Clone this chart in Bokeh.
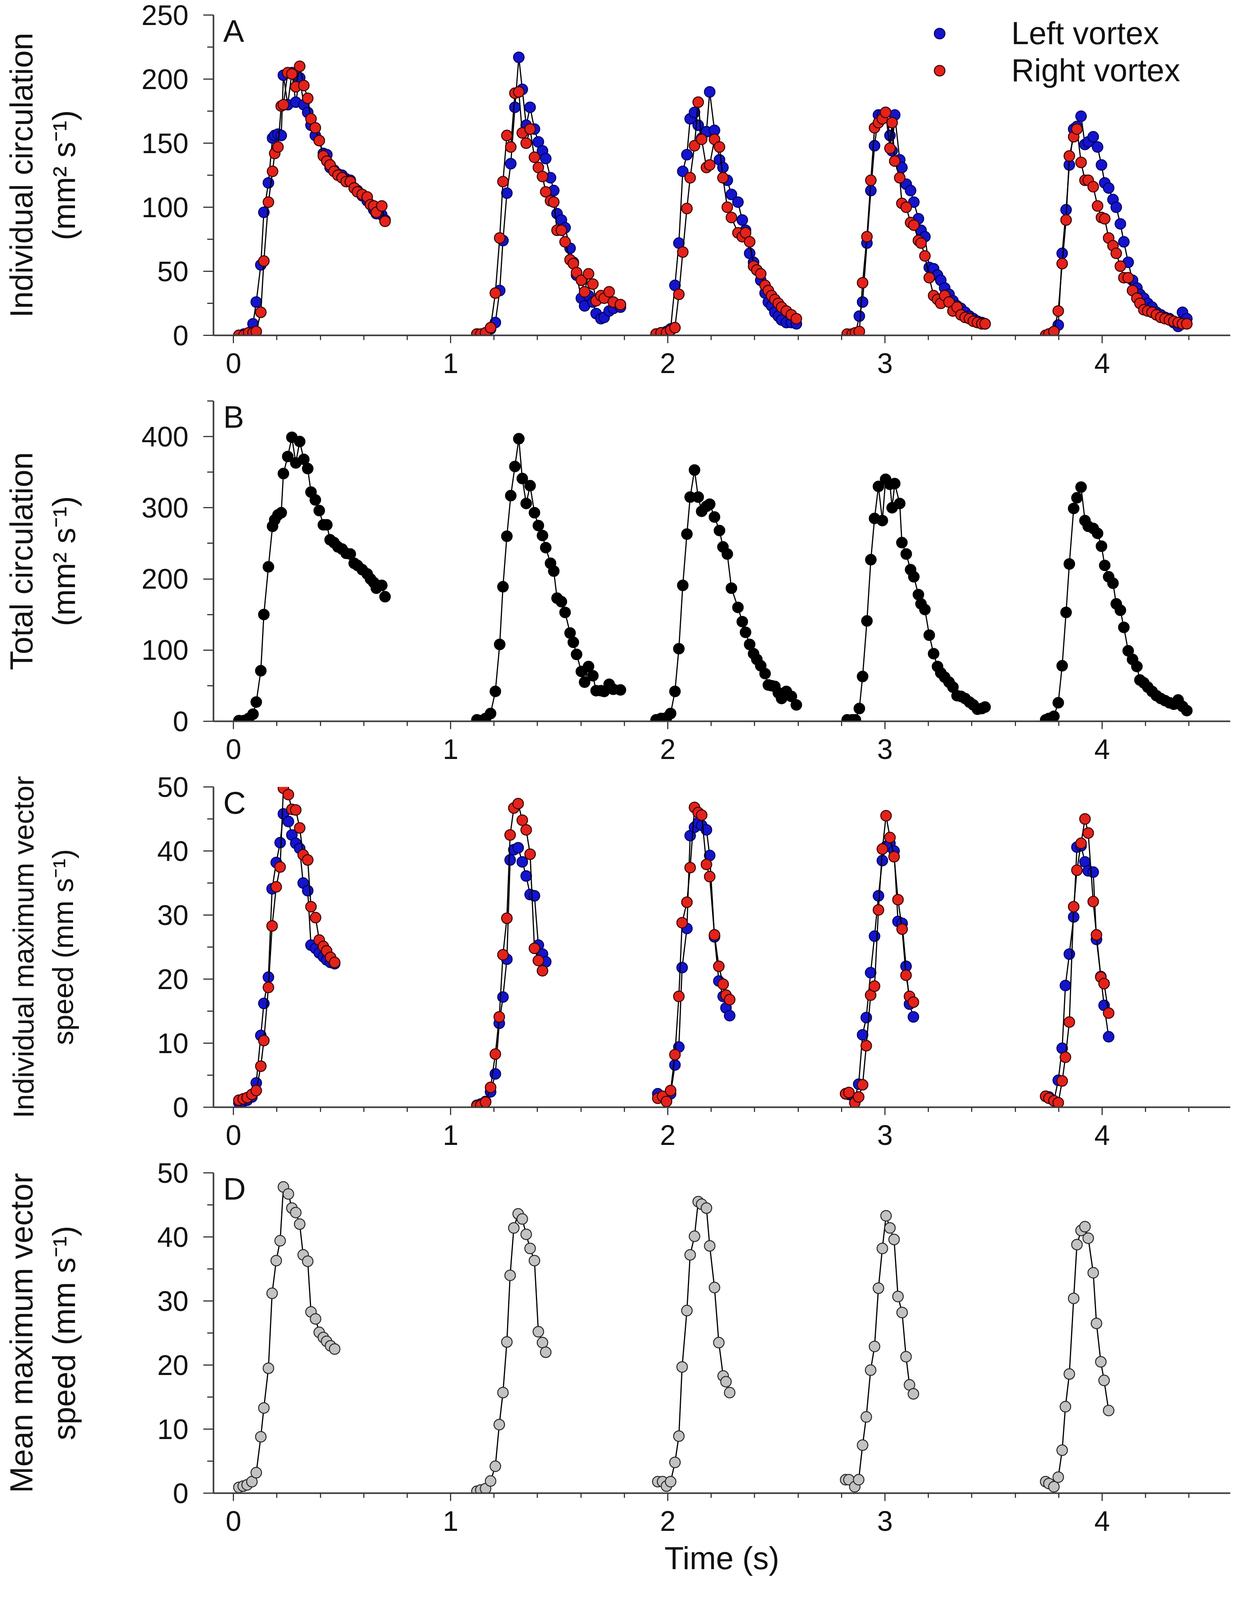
from bokeh.plotting import figure
from bokeh.layouts import column
from bokeh.models import SingleIntervalTicker, Range1d, Legend, LegendItem, Label
from bokeh.embed import file_html
from bokeh.resources import INLINE

FONT = "Liberation Sans"

# ---------------- circulation data (panels A & B), one list per stroke cycle ----------------
t_circ_1 = [0.025, 0.048, 0.07, 0.09, 0.105, 0.126, 0.14, 0.161, 0.18, 0.19, 0.205, 0.22, 0.23, 0.25, 0.269,
            0.287, 0.305, 0.324, 0.342, 0.357, 0.377, 0.395, 0.414, 0.43, 0.445, 0.463, 0.481, 0.5, 0.519,
            0.538, 0.556, 0.571, 0.593, 0.616, 0.631, 0.646, 0.658, 0.683, 0.698]
t_circ_2 = [1.121, 1.139, 1.161, 1.184, 1.206, 1.226, 1.241, 1.259, 1.277, 1.296, 1.314, 1.33, 1.348, 1.366,
            1.386, 1.404, 1.423, 1.438, 1.46, 1.475, 1.49, 1.51, 1.527, 1.55, 1.565, 1.58, 1.602, 1.617,
            1.635, 1.655, 1.67, 1.692, 1.707, 1.73, 1.749, 1.782]
t_circ_3 = [1.946, 1.969, 1.994, 2.013, 2.033, 2.051, 2.069, 2.088, 2.103, 2.123, 2.14, 2.156, 2.178, 2.193,
            2.215, 2.238, 2.254, 2.274, 2.293, 2.323, 2.343, 2.358, 2.377, 2.395, 2.41, 2.428, 2.448, 2.463,
            2.478, 2.493, 2.509, 2.524, 2.546, 2.569, 2.592]
t_circ_4 = [2.826, 2.849, 2.864, 2.882, 2.897, 2.917, 2.935, 2.952, 2.97, 2.988, 3.003, 3.023, 3.033, 3.045,
            3.068, 3.078, 3.098, 3.118, 3.133, 3.154, 3.166, 3.184, 3.204, 3.224, 3.242, 3.257, 3.275, 3.295,
            3.313, 3.332, 3.35, 3.369, 3.389, 3.407, 3.426, 3.446, 3.461]
t_circ_5 = [3.74, 3.755, 3.778, 3.798, 3.816, 3.834, 3.849, 3.869, 3.884, 3.903, 3.921, 3.936, 3.959, 3.979,
            3.997, 4.012, 4.03, 4.05, 4.065, 4.084, 4.1, 4.12, 4.14, 4.16, 4.174, 4.192, 4.21, 4.23, 4.25,
            4.27, 4.29, 4.31, 4.33, 4.35, 4.37, 4.39]

left_circ_1 = [0, 1, 2, 9, 26, 55, 96, 119, 154, 156, 157, 156, 203, 180, 205, 182, 201, 180, 174, 164, 156, 152,
               142, 141, 131, 129, 126, 125, 122, 121, 115, 113, 109, 105, 102, 98, 95, 94, 90]
left_circ_2 = [1, 0, 2, 5, 10, 35, 74, 111, 134, 178, 217, 192, 164, 178, 161, 151, 144, 138, 123, 113, 95, 90,
               84, 68, 57, 47, 29, 23, 31, 26, 17, 13, 14, 19, 21, 22]
left_circ_3 = [1, 2, 3, 5, 39, 72, 128, 141, 169, 174, 164, 154, 159, 190, 160, 137, 131, 121, 110, 104, 90, 82,
               64, 57, 51, 43, 33, 26, 23, 18, 15, 12, 10, 10, 9]
left_circ_4 = [0, 1, 1, 15, 26, 72, 113, 148, 172, 172, 174, 156, 144, 172, 137, 131, 118, 113, 104, 91, 82, 77,
               53, 52, 47, 43, 37, 32, 27, 23, 21, 18, 15, 13, 11, 10, 9]
left_circ_5 = [0, 1, 3, 8, 64, 98, 133, 161, 163, 171, 149, 151, 155, 147, 133, 119, 115, 106, 100, 87, 73, 57,
               43, 37, 32, 29, 25, 22, 18, 16, 14, 13, 10, 7, 18, 13]

right_circ_1 = [0, 0, 2, 2, 3, 18, 58, 104, 128, 142, 147, 179, 180, 205, 204, 194, 210, 195, 185, 169, 162, 152,
                140, 136, 133, 128, 125, 123, 120, 120, 115, 112, 110, 108, 102, 101, 96, 101, 89]
right_circ_2 = [1, 1, 2, 6, 33, 76, 120, 156, 147, 189, 190, 158, 150, 161, 139, 131, 124, 112, 105, 104, 82, 82,
                73, 59, 56, 49, 43, 34, 48, 40, 27, 31, 29, 34, 26, 24]
right_circ_3 = [1, 2, 2, 4, 6, 32, 65, 99, 123, 148, 182, 153, 131, 133, 153, 147, 123, 100, 92, 80, 77, 80, 73,
                54, 51, 48, 39, 35, 31, 28, 25, 22, 19, 16, 13]
right_circ_4 = [1, 1, 2, 3, 41, 77, 121, 162, 166, 169, 174, 146, 166, 136, 123, 103, 100, 88, 86, 74, 72, 62,
                45, 31, 28, 25, 31, 26, 19, 22, 16, 14, 13, 11, 10, 9, 9]
right_circ_5 = [0, 1, 3, 19, 56, 90, 140, 155, 161, 135, 121, 121, 116, 101, 92, 91, 76, 70, 64, 54, 45, 45, 35,
                29, 25, 20, 19, 18, 16, 14, 13, 12, 11, 10, 9, 9]

total_circ_1 = [1, 1, 4, 10, 27, 71, 150, 217, 274, 283, 290, 293, 348, 372, 399, 363, 393, 368, 355, 322, 311,
                296, 276, 276, 255, 251, 245, 242, 236, 235, 222, 219, 213, 207, 200, 195, 187, 191, 175]
total_circ_2 = [2, 1, 4, 11, 42, 108, 189, 260, 317, 358, 397, 341, 306, 331, 293, 275, 261, 244, 222, 211, 173,
                168, 153, 124, 111, 94, 70, 55, 77, 64, 43, 43, 42, 52, 45, 44]
total_circ_3 = [2, 4, 5, 11, 42, 102, 191, 263, 315, 353, 315, 295, 302, 305, 287, 268, 245, 235, 187, 160, 140,
                125, 108, 95, 87, 78, 67, 51, 50, 49, 40, 32, 42, 35, 23]
total_circ_4 = [2, 2, 2, 18, 63, 141, 227, 285, 330, 282, 340, 333, 300, 334, 306, 251, 235, 213, 203, 178, 165,
                157, 121, 95, 77, 68, 62, 55, 48, 36, 35, 32, 27, 23, 17, 18, 20]
total_circ_5 = [2, 4, 7, 26, 78, 153, 221, 299, 314, 329, 282, 274, 271, 264, 246, 219, 203, 194, 165, 156, 132,
                99, 87, 77, 58, 54, 48, 42, 36, 32, 29, 26, 24, 30, 21, 15]

# ---------------- maximum vector speed data (panels C & D) ----------------
t_speed_1 = [0.025, 0.045, 0.063, 0.085, 0.105, 0.126, 0.14, 0.161, 0.178, 0.197, 0.215, 0.23, 0.253, 0.269,
             0.287, 0.305, 0.321, 0.342, 0.357, 0.378, 0.395, 0.414, 0.429, 0.447, 0.466]
t_speed_2 = [1.121, 1.139, 1.161, 1.184, 1.206, 1.224, 1.241, 1.259, 1.274, 1.291, 1.311, 1.33, 1.348, 1.366,
             1.386, 1.404, 1.423, 1.438]
t_speed_3 = [1.954, 1.976, 1.994, 2.013, 2.033, 2.051, 2.066, 2.088, 2.103, 2.123, 2.14, 2.156, 2.178, 2.193,
             2.215, 2.235, 2.255, 2.268, 2.285]
t_speed_4 = [2.819, 2.834, 2.861, 2.879, 2.897, 2.914, 2.934, 2.952, 2.97, 2.988, 3.005, 3.023, 3.042, 3.06,
             3.079, 3.097, 3.113, 3.131]
t_speed_5 = [3.74, 3.755, 3.778, 3.798, 3.816, 3.831, 3.849, 3.869, 3.884, 3.903, 3.921, 3.936, 3.959, 3.974,
             3.994, 4.009, 4.03]

left_speed_1 = [0.7, 0.9, 1.1, 1.6, 3.8, 11.2, 16.2, 20.3, 34.1, 38.2, 41.3, 45.8, 44.6, 42.5, 41.2, 40.4, 35.0,
                33.8, 25.3, 24.8, 24.1, 23.5, 23.0, 22.6, 22.4]
left_speed_2 = [0.3, 0.5, 0.9, 2.4, 5.2, 13.1, 17.2, 23.1, 38.6, 40.2, 40.5, 38.3, 36.1, 33.2, 33.0, 25.3, 23.9,
                22.7]
left_speed_3 = [2.1, 1.5, 1.0, 2.1, 6.6, 9.4, 21.8, 27.9, 42.4, 43.7, 44.4, 44.0, 43.3, 39.3, 26.6, 19.7, 17.3,
                15.5, 14.3]
left_speed_4 = [2.1, 2.0, 1.4, 3.6, 11.3, 14.0, 21.0, 26.7, 33.0, 38.5, 40.7, 41.2, 40.0, 29.0, 28.7, 22.0, 16.1,
                14.1]
left_speed_5 = [1.7, 1.6, 1.0, 4.2, 9.2, 19.0, 23.9, 29.7, 40.6, 40.8, 38.3, 36.9, 36.7, 26.2, 20.4, 15.9, 11.0]

right_speed_1 = [1.1, 1.3, 1.5, 2.0, 2.6, 6.4, 10.4, 18.7, 28.3, 34.4, 37.5, 49.8, 48.8, 46.5, 46.4, 43.6, 39.4,
                 38.6, 31.3, 29.6, 26.1, 25.1, 24.4, 23.4, 22.6]
right_speed_2 = [0.2, 0.3, 0.8, 3.1, 8.3, 14.1, 23.8, 29.5, 42.5, 46.7, 47.4, 44.8, 43.3, 39.5, 24.8, 22.9, 21.3]
right_speed_3 = [1.4, 1.7, 0.9, 2.6, 8.2, 17.3, 28.8, 32.0, 37.4, 46.8, 46.0, 45.6, 37.9, 36.0, 26.9, 22.0, 19.2,
                 17.5, 16.8]
right_speed_4 = [2.1, 2.3, 0.7, 1.6, 3.5, 9.6, 17.5, 18.9, 30.8, 40.3, 45.5, 42.1, 39.1, 32.4, 27.8, 20.6, 17.3,
                 16.4]
right_speed_5 = [1.7, 1.4, 1.0, 0.7, 4.1, 7.8, 13.3, 31.3, 37.0, 41.2, 45.0, 42.8, 32.1, 26.9, 20.3, 19.3, 14.7]

mean_speed_1 = [0.9, 1.1, 1.3, 1.8, 3.2, 8.8, 13.3, 19.5, 31.2, 36.3, 39.4, 47.8, 46.7, 44.5, 43.8, 42.0, 37.2,
                36.2, 28.3, 27.2, 25.1, 24.3, 23.7, 23.0, 22.5]
mean_speed_2 = [0.3, 0.5, 0.7, 1.9, 4.2, 10.7, 15.7, 23.6, 34.0, 41.4, 43.6, 42.8, 40.4, 38.2, 36.3, 25.2, 23.5,
                22.0]
mean_speed_3 = [1.8, 1.8, 1.1, 1.8, 4.8, 8.9, 19.7, 28.5, 37.2, 40.1, 45.5, 45.1, 44.5, 38.6, 32.1, 23.5, 18.3,
                17.4, 15.7]
mean_speed_4 = [2.1, 2.1, 1.0, 2.1, 7.5, 11.9, 19.2, 22.9, 32.0, 38.2, 43.3, 41.4, 39.6, 30.7, 28.2, 21.3, 16.9,
                15.5]
mean_speed_5 = [1.8, 1.5, 1.0, 2.5, 6.7, 13.5, 18.6, 30.4, 38.8, 41.0, 41.6, 39.8, 34.4, 26.5, 20.5, 17.6, 12.9]

x_ticks_interval = 1
panel_letters = ["A", "B", "C", "D"]
y_titles = ["Individual circulation\n(mm\u00b2 s\u207b\u00b9)",
            "Total circulation\n(mm\u00b2 s\u207b\u00b9)",
            "Individual maximum vector\nspeed (mm s\u207b\u00b9)",
            "Mean maximum vector\nspeed (mm s\u207b\u00b9)"]
x_title = "Time (s)"
legend_labels = ["Left vortex", "Right vortex"]

t_circ = [t_circ_1, t_circ_2, t_circ_3, t_circ_4, t_circ_5]
left_circ = [left_circ_1, left_circ_2, left_circ_3, left_circ_4, left_circ_5]
right_circ = [right_circ_1, right_circ_2, right_circ_3, right_circ_4, right_circ_5]
total_circ = [total_circ_1, total_circ_2, total_circ_3, total_circ_4, total_circ_5]
t_speed = [t_speed_1, t_speed_2, t_speed_3, t_speed_4, t_speed_5]
left_speed = [left_speed_1, left_speed_2, left_speed_3, left_speed_4, left_speed_5]
right_speed = [right_speed_1, right_speed_2, right_speed_3, right_speed_4, right_speed_5]
mean_speed = [mean_speed_1, mean_speed_2, mean_speed_3, mean_speed_4, mean_speed_5]

AX = "#3a3a3a"
BLUE = "#1414cc"
RED = "#e3231b"
TICK_FONT = "72px"
TITLE_FONT = "81px"
FRAME_H = 820


def make_fig(top, bottom, y_end, y_int, title, title_size, label_standoff, letter, xtitle=None):
    p = figure(frame_width=2603, frame_height=FRAME_H, min_border_left=546, min_border_right=12,
               min_border_top=top, min_border_bottom=bottom,
               x_range=Range1d(-0.092, 4.59), y_range=Range1d(0, y_end),
               output_backend="svg", toolbar_location=None)
    p.outline_line_color = None
    p.grid.visible = False
    p.background_fill_color = "white"
    p.border_fill_color = "white"
    p.xaxis.ticker = SingleIntervalTicker(interval=x_ticks_interval, num_minor_ticks=5)
    p.yaxis.ticker = SingleIntervalTicker(interval=y_int, num_minor_ticks=2)
    for ax in (p.xaxis[0], p.yaxis[0]):
        ax.axis_line_color = AX
        ax.axis_line_width = 4
        ax.major_tick_line_color = AX
        ax.major_tick_line_width = 3
        ax.minor_tick_line_color = AX
        ax.minor_tick_line_width = 3
        ax.major_tick_in = 0
        ax.minor_tick_in = 0
        ax.major_label_text_font = FONT
        ax.major_label_text_font_size = TICK_FONT
        ax.major_label_text_color = "#111111"
        ax.axis_label_text_font = FONT
        ax.axis_label_text_font_size = TITLE_FONT
        ax.axis_label_text_font_style = "normal"
        ax.axis_label_text_color = "#111111"
    p.xaxis.major_tick_out = 20
    p.xaxis.minor_tick_out = 12
    p.xaxis.major_label_standoff = 26
    p.yaxis.major_tick_out = 26
    p.yaxis.minor_tick_out = 16
    p.yaxis.major_label_standoff = 38
    p.yaxis.axis_label = title
    p.yaxis.axis_label_text_font_size = title_size
    p.yaxis.axis_label_standoff = label_standoff
    p.yaxis.axis_label_text_line_height = 1.22
    if xtitle:
        p.xaxis.axis_label = xtitle
        p.xaxis.axis_label_standoff = 22
    p.add_layout(Label(x=-0.047, y=y_end, text=letter, text_baseline="top", text_align="left",
                       text_font=FONT, text_font_size="80px", text_color="#111111", y_offset=4))
    return p


def series(p, ts, vs, fill, outline):
    xs, ys = [], []
    for t, v in zip(ts, vs):
        p.line(t[:len(v)], v, line_color="black", line_width=3)
        xs += t[:len(v)]
        ys += v
    return p.scatter(xs, ys, size=27, marker="circle", fill_color=fill, line_color=outline, line_width=2.5)


# Panel A
pA = make_fig(38, 128, 250, 50, y_titles[0], TITLE_FONT, 150, panel_letters[0])
rl = series(pA, t_circ, left_circ, BLUE, "#000066")
rr = series(pA, t_circ, right_circ, RED, "#3a0000")
leg = Legend(items=[LegendItem(label=legend_labels[0], renderers=[rl]),
                    LegendItem(label=legend_labels[1], renderers=[rr])],
             location=(1825, FRAME_H - 190), orientation="vertical",
             label_text_font=FONT, label_text_font_size=TITLE_FONT, label_text_color="#111111",
             glyph_width=68, glyph_height=95, label_height=95, label_standoff=150,
             spacing=0, padding=0, margin=0, border_line_color=None, background_fill_alpha=0)
pA.add_layout(leg)

# Panel B
pB = make_fig(40, 128, 450, 100, y_titles[1], TITLE_FONT, 150, panel_letters[1])
series(pB, t_circ, total_circ, "black", "black")

# Panel C
pC = make_fig(40, 128, 50, 10, y_titles[2], "74px", 196, panel_letters[2])
series(pC, t_speed, left_speed, BLUE, "#000066")
series(pC, t_speed, right_speed, RED, "#3a0000")

# Panel D
pD = make_fig(40, 240, 50, 10, y_titles[3], TITLE_FONT, 190, panel_letters[3], xtitle=x_title)
series(pD, t_speed, mean_speed, "#c2c2c2", "#2a2a2a")

layout = column(pA, pB, pC, pD, spacing=0)
open("out.html", "w").write(file_html(layout, INLINE))
